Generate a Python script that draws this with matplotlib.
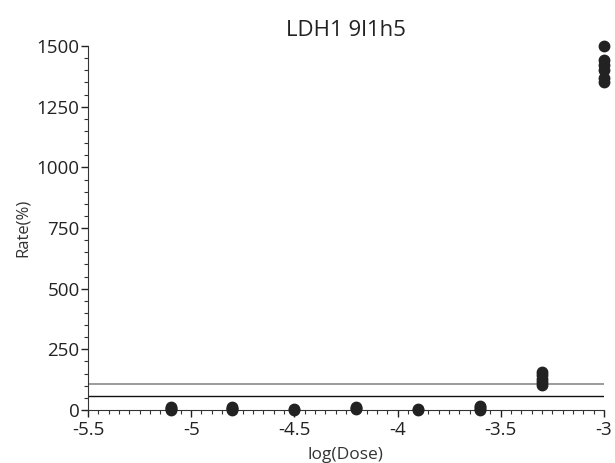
import matplotlib
matplotlib.use('Agg')
import matplotlib.pyplot as plt
from matplotlib.ticker import MultipleLocator

plt.rcParams['font.family'] = ['Open Sans', 'DejaVu Sans']

# log(Dose) groups and replicate rates
dose_5_1 = [0, 4, 8, 12]
dose_4_8 = [0, 4, 8, 12]
dose_4_5 = [0, 3]
dose_4_2 = [4, 8, 12]
dose_3_9 = [0, 3]
dose_3_6 = [0, 6, 12, 18]
dose_3_3 = [103, 115, 128, 143, 157]
dose_3_0 = [1350, 1368, 1400, 1420, 1442, 1500]

log_dose = [-5.1, -4.8, -4.5, -4.2, -3.9, -3.6, -3.3, -3.0]
rates = [dose_5_1, dose_4_8, dose_4_5, dose_4_2, dose_3_9, dose_3_6, dose_3_3, dose_3_0]

upper_line = 106
lower_line = 57

fig = plt.figure(figsize=(6.15, 4.63), dpi=100)
ax = fig.add_axes([0.143, 0.1145, 0.839, 0.786])

ax.axhline(upper_line, color='#8a8a8a', lw=1.2, zorder=1)
ax.axhline(lower_line, color='#111111', lw=1.0, zorder=1)

for x, ys in zip(log_dose, rates):
    ax.plot([x] * len(ys), ys, 'o', color='#222222', ms=7.5, clip_on=False, zorder=3)

ax.set_xlim(-5.5, -3)
ax.set_ylim(0, 1500)
ax.xaxis.set_minor_locator(MultipleLocator(0.05))
ax.yaxis.set_major_locator(MultipleLocator(250))
ax.yaxis.set_minor_locator(MultipleLocator(50))
ax.set_xticks([-5.5, -5, -4.5, -4, -3.5, -3])
ax.set_xticklabels(['-5.5', '-5', '-4.5', '-4', '-3.5', '-3'])

for side in ['top', 'right']:
    ax.spines[side].set_visible(False)
ax.spines['left'].set_color('#333333')
ax.spines['bottom'].set_color('#333333')
ax.tick_params(which='major', length=5, width=1, labelsize=13.5, colors='#222222', pad=1)
ax.tick_params(axis='x', which='major', pad=3)
ax.tick_params(which='minor', length=3, width=0.8, colors='#333333')

ax.set_title('LDH1 9l1h5', fontsize=16, color='#222222', pad=7)
ax.set_xlabel('log(Dose)', fontsize=12.5, color='#333333', labelpad=6)
ax.set_ylabel('Rate(%)', fontsize=12, color='#333333', labelpad=4)

fig.savefig('out.png', dpi=100)
